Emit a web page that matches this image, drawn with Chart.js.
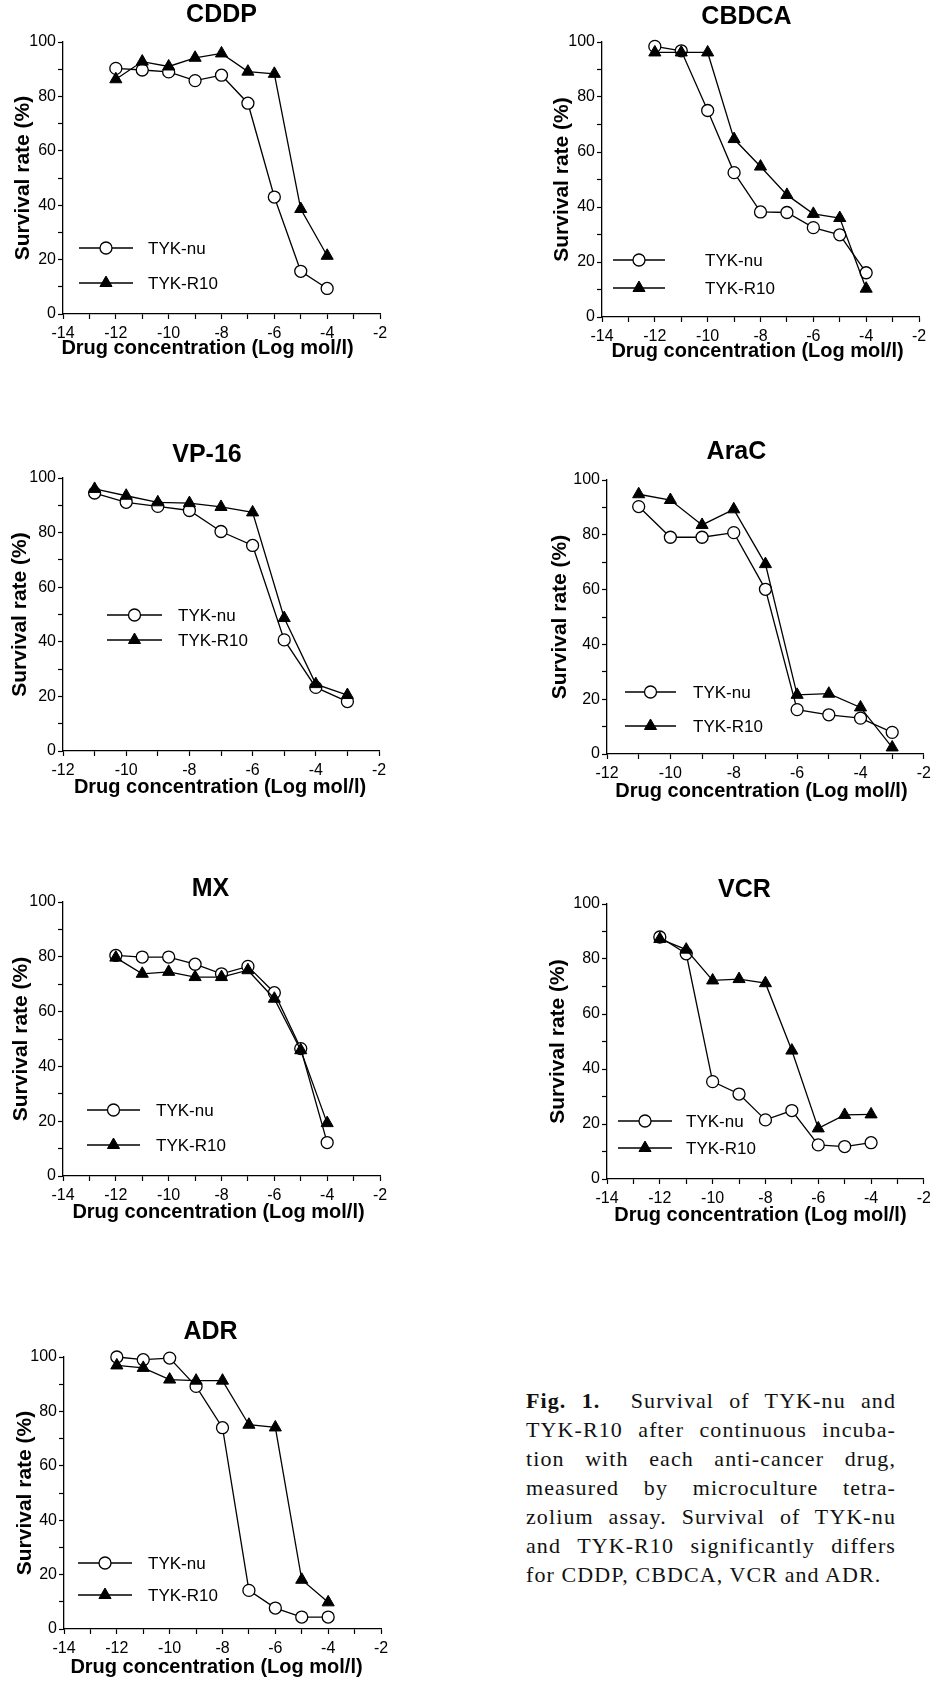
<!DOCTYPE html>
<html>
<head>
<meta charset="utf-8">
<title>Fig. 1 - Survival of TYK-nu and TYK-R10</title>
<script src="https://cdn.jsdelivr.net/npm/chart.js@4.4.0/dist/chart.umd.min.js"></script>
<style>
  html, body { margin: 0; padding: 0; background: #fff; }
  #page { position: relative; width: 936px; height: 1681px; overflow: hidden; }
  #page canvas { position: absolute; }
  #caption {
    position: absolute; left: 526px; top: 1386px; width: 370px;
    font-family: "Liberation Serif", "DejaVu Serif", serif;
    font-size: 22px; line-height: 29px; letter-spacing: 1.1px; color: #111;
  }
  #caption div { text-align: justify; text-align-last: justify; }
  #caption div.last { text-align-last: left; }
</style>
</head>
<body>
<div id="page">
  <div id="caption">
    <div><b>Fig. 1.</b>&nbsp; Survival of TYK-nu and</div>
    <div>TYK-R10 after continuous incuba-</div>
    <div>tion with each anti-cancer drug,</div>
    <div>measured by microculture tetra-</div>
    <div>zolium assay. Survival of TYK-nu</div>
    <div>and TYK-R10 significantly differs</div>
    <div class="last">for CDDP, CBDCA, VCR and ADR.</div>
  </div>
</div>

<script>
// ====== Données ======
const drugs = ["CDDP", "CBDCA", "VP-16", "AraC", "MX", "VCR", "ADR"];
const seriesNames = ["TYK-nu", "TYK-R10"];
const xAxisTitle = "Drug concentration (Log mol/l)";
const yAxisTitle = "Survival rate (%)";

// concentrations (log mol/l)
const concA = [-12, -11, -10, -9, -8, -7, -6, -5, -4];
const concB = [-11, -10, -9, -8, -7, -6, -5, -4, -3];

// graduations
const xTicksWide   = [-14, -12, -10, -8, -6, -4, -2];
const xTicksNarrow = [-12, -10, -8, -6, -4, -2];
const yTicks       = [0, 20, 40, 60, 80, 100];

// survie (%)
const nuCDDP   = [90.3, 89.7, 89.0, 85.8, 87.8, 77.5, 43.0, 15.7, 9.4];
const r10CDDP  = [86.3, 92.8, 91.0, 94.2, 95.8, 89.1, 88.3, 38.6, 21.4];
const nuCBDCA  = [98.4, 96.8, 75.1, 52.5, 38.2, 38.0, 32.5, 29.9, 16.1];
const r10CBDCA = [96.2, 96.2, 96.2, 64.7, 54.7, 44.4, 37.5, 36.0, 10.3];
const nuVP16   = [94.5, 91.1, 89.6, 88.1, 80.4, 75.3, 40.7, 23.3, 18.1];
const r10VP16  = [96.0, 93.5, 91.1, 90.8, 89.4, 87.4, 48.7, 24.5, 20.5];
const nuAraC   = [90.3, 79.1, 79.1, 80.8, 60.1, 16.2, 14.3, 13.1, 7.9];
const r10AraC  = [94.8, 92.7, 83.6, 89.3, 69.3, 21.6, 22.0, 17.0, 2.4];
const nuMX     = [80.5, 79.9, 79.9, 77.3, 73.8, 76.5, 66.9, 46.5, 12.2];
const r10MX    = [79.7, 73.8, 74.5, 72.6, 72.6, 75.1, 64.7, 45.9, 19.3];
const nuVCR    = [88.0, 81.9, 35.4, 30.9, 21.5, 24.9, 12.4, 11.8, 13.2];
const r10VCR   = [87.3, 83.4, 72.2, 72.7, 71.2, 46.7, 18.4, 23.3, 23.5];
const nuADR    = [100, 99.0, 99.6, 89.2, 74.0, 14.2, 7.7, 4.4, 4.4];
const r10ADR   = [96.9, 96.0, 91.7, 91.3, 91.3, 75.1, 74.1, 18.1, 9.8];

const panelData = [
  { conc: concA, xTicks: xTicksWide,   nu: nuCDDP,  r10: r10CDDP },
  { conc: concA, xTicks: xTicksWide,   nu: nuCBDCA, r10: r10CBDCA },
  { conc: concB, xTicks: xTicksNarrow, nu: nuVP16,  r10: r10VP16 },
  { conc: concB, xTicks: xTicksNarrow, nu: nuAraC,  r10: r10AraC },
  { conc: concA, xTicks: xTicksWide,   nu: nuMX,    r10: r10MX },
  { conc: concA, xTicks: xTicksWide,   nu: nuVCR,   r10: r10VCR },
  { conc: concA, xTicks: xTicksWide,   nu: nuADR,   r10: r10ADR }
];

// ====== Mise en page (pixels) ======
const Y_AXIS_W = 63;
const TITLE_H  = 42;
const X_AXIS_H = 50;

// zone de tracé de chaque panneau + décalages des titres / légende
const panelLayout = [
  { L: 63,  T: 42,   R: 380, B: 314,  padR: 16, titleGap: 27, titleDx: 0,   xtGap: 34, xtDx: -14, yTitleGap: 40, leg: { x0: 16, x1: 70, y1: 206, y2: 241, tx: 85 } },
  { L: 602, T: 42,   R: 919, B: 317,  padR: 16, titleGap: 25, titleDx: -14, xtGap: 34, xtDx: -3,  yTitleGap: 40, leg: { x0: 11, x1: 63, y1: 218, y2: 246, tx: 103 } },
  { L: 63,  T: 478,  R: 379, B: 751,  padR: 16, titleGap: 23, titleDx: -14, xtGap: 36, xtDx: -1,  yTitleGap: 43, leg: { x0: 44, x1: 99, y1: 137, y2: 162, tx: 115 } },
  { L: 607, T: 480,  R: 925, B: 754,  padR: 11, titleGap: 28, titleDx: -29, xtGap: 37, xtDx: -4,  yTitleGap: 47, leg: { x0: 18, x1: 69, y1: 212, y2: 246, tx: 86 } },
  { L: 63,  T: 902,  R: 380, B: 1176, padR: 16, titleGap: 13, titleDx: -11, xtGap: 36, xtDx: -3,  yTitleGap: 42, leg: { x0: 24, x1: 77, y1: 208, y2: 243, tx: 93 } },
  { L: 607, T: 904,  R: 925, B: 1179, padR: 11, titleGap: 14, titleDx: -21, xtGap: 36, xtDx: -5,  yTitleGap: 49, leg: { x0: 11, x1: 65, y1: 217, y2: 244, tx: 79 } },
  { L: 64,  T: 1357, R: 381, B: 1629, padR: 16, titleGap: 25, titleDx: -12, xtGap: 38, xtDx: -6,  yTitleGap: 39, leg: { x0: 14, x1: 68, y1: 206, y2: 238, tx: 84 } }
];

const FONT = "'Liberation Sans', Arial, sans-serif";
Chart.defaults.font.family = FONT;
Chart.defaults.color = "#000";

// ====== Titres + légende dans le graphique ======
function drawMarker(ctx, style, x, y, r) {
  ctx.beginPath();
  if (style === "triangle") {
    for (let k = 0; k < 3; k++) {
      const a = k * 2 * Math.PI / 3;
      const px = x + Math.sin(a) * r, py = y - Math.cos(a) * r;
      if (k === 0) ctx.moveTo(px, py); else ctx.lineTo(px, py);
    }
    ctx.closePath();
  } else {
    ctx.arc(x, y, r, 0, Math.PI * 2);
  }
  ctx.fill();
  ctx.stroke();
}

const panelDecor = {
  id: "panelDecor",
  afterDraw(chart, args, opts) {
    const { ctx, chartArea } = chart;
    const cx = (chartArea.left + chartArea.right) / 2;
    ctx.save();
    ctx.fillStyle = "#000";
    ctx.textAlign = "center";
    ctx.textBaseline = "middle";

    // titre du panneau
    ctx.font = "bold 25px " + FONT;
    ctx.fillText(opts.title, cx + opts.titleDx, chartArea.top - opts.titleGap);

    // titre de l'axe x
    ctx.font = "bold 20px " + FONT;
    ctx.fillText(xAxisTitle, cx + opts.xtDx, chartArea.bottom + opts.xtGap);

    // légende
    const leg = opts.leg;
    const rows = [leg.y1, leg.y2];
    chart.data.datasets.forEach((ds, i) => {
      const y = chartArea.top + rows[i];
      const x0 = chartArea.left + leg.x0, x1 = chartArea.left + leg.x1;
      ctx.strokeStyle = "#000";
      ctx.lineWidth = ds.borderWidth;
      ctx.beginPath();
      ctx.moveTo(x0, y);
      ctx.lineTo(x1, y);
      ctx.stroke();
      ctx.fillStyle = ds.pointBackgroundColor;
      ctx.lineWidth = ds.pointBorderWidth;
      drawMarker(ctx, ds.pointStyle, (x0 + x1) / 2, y, ds.pointRadius);
      ctx.fillStyle = "#000";
      ctx.font = "17px " + FONT;
      ctx.textAlign = "left";
      ctx.fillText(ds.label, chartArea.left + leg.tx, y + 1);
    });
    ctx.restore();
  }
};

// ====== Construction d'un panneau ======
function makePanel(idx) {
  const d = panelData[idx];
  const p = panelLayout[idx];
  const page = document.getElementById("page");

  const w = p.R - p.L + Y_AXIS_W + p.padR;
  const h = p.B - p.T + TITLE_H + X_AXIS_H;
  const canvas = document.createElement("canvas");
  canvas.width = w;
  canvas.height = h;
  canvas.style.left = (p.L - Y_AXIS_W) + "px";
  canvas.style.top = (p.T - TITLE_H) + "px";
  canvas.style.width = w + "px";
  canvas.style.height = h + "px";
  page.appendChild(canvas);

  const toPoints = vals => d.conc.map((x, i) => ({ x, y: vals[i] }));

  const axisCommon = {
    grid: { drawOnChartArea: false, drawTicks: true, tickLength: 5, tickColor: "#000", tickWidth: 1.2 },
    border: { display: true, color: "#000", width: 1.3 }
  };

  new Chart(canvas, {
    type: "line",
    data: {
      datasets: [
        {
          label: seriesNames[0],
          data: toPoints(d.nu),
          borderColor: "#000",
          borderWidth: 1.3,
          pointStyle: "circle",
          pointRadius: 6,
          pointBackgroundColor: "#fff",
          pointBorderColor: "#000",
          pointBorderWidth: 1.3,
          tension: 0,
          clip: false,
          order: 2
        },
        {
          label: seriesNames[1],
          data: toPoints(d.r10),
          borderColor: "#000",
          borderWidth: 1.3,
          pointStyle: "triangle",
          pointRadius: 7,
          pointBackgroundColor: "#000",
          pointBorderColor: "#000",
          pointBorderWidth: 1,
          tension: 0,
          clip: false,
          order: 1
        }
      ]
    },
    options: {
      responsive: false,
      animation: false,
      devicePixelRatio: 1,
      layout: { padding: { left: 0, right: p.padR, top: TITLE_H, bottom: 0 } },
      plugins: {
        legend: { display: false },
        tooltip: { enabled: false },
        panelDecor: {
          title: drugs[idx], titleGap: p.titleGap, titleDx: p.titleDx,
          xtGap: p.xtGap, xtDx: p.xtDx, leg: p.leg
        }
      },
      scales: {
        x: {
          type: "linear",
          min: d.xTicks[0],
          max: d.xTicks[d.xTicks.length - 1],
          ticks: {
            stepSize: 1,
            autoSkip: false,
            maxRotation: 0,
            padding: 5,
            font: { size: 16 },
            color: "#000",
            callback: v => d.xTicks.includes(v) ? String(v) : ""
          },
          ...axisCommon,
          afterFit: s => { s.height = X_AXIS_H; }
        },
        y: {
          min: 0,
          max: 100,
          ticks: {
            stepSize: 10,
            autoSkip: false,
            padding: 2,
            font: { size: 16 },
            color: "#000",
            callback: v => yTicks.includes(v) ? String(v) : ""
          },
          ...axisCommon,
          title: {
            display: true,
            text: yAxisTitle,
            font: { size: 21, weight: "bold" },
            color: "#000",
            padding: { top: Math.max(0, Y_AXIS_W - p.yTitleGap - 12.6), bottom: 0 }
          },
          afterFit: s => { s.width = Y_AXIS_W; }
        }
      }
    },
    plugins: [panelDecor]
  });
}

// ====== INIT ======
document.addEventListener("DOMContentLoaded", () => {
  drugs.forEach((name, i) => makePanel(i));
});
</script>
</body>
</html>
